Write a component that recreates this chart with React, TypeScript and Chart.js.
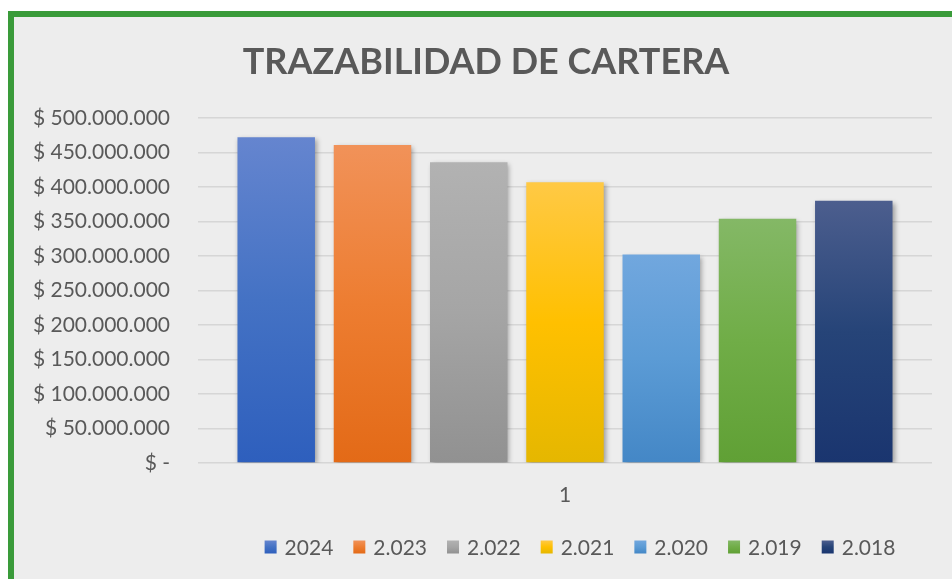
import React, { useEffect, useRef } from "react";
import { Chart, registerables } from "chart.js";

Chart.register(...registerables);

const categories = ["1"];
const seriesLabels = ["2024", "2.023", "2.022", "2.021", "2.020", "2.019", "2.018"];
const seriesValues = [472000000, 461000000, 436000000, 407000000, 302000000, 354000000, 380000000];
const gradientTop = ["#6585cf", "#f19259", "#b2b2b2", "#ffc945", "#71a7de", "#84b866", "#4c5e8e"];
const gradientMid = ["#4472c4", "#ed7d31", "#a5a5a5", "#ffc000", "#5b9bd5", "#70ad47", "#264478"];
const gradientBottom = ["#2e5fbd", "#e36a17", "#919191", "#e5b700", "#4487c6", "#60a035", "#1a356f"];
const yTicks = [0, 50000000, 100000000, 150000000, 200000000, 250000000, 300000000, 350000000, 400000000, 450000000, 500000000];
const titleText = "TRAZABILIDAD DE CARTERA";

const FONT = "Lato, 'Open Sans', sans-serif";
const TEXT_COLOR = "#595959";

function formatMoney(v: number): string {
  if (v === 0) return "$ -";
  const s = Math.round(v).toString();
  const parts: string[] = [];
  for (let i = s.length; i > 0; i -= 3) parts.unshift(s.substring(Math.max(0, i - 3), i));
  return "$ " + parts.join(".");
}

const titlePlugin = {
  id: "customTitle",
  afterDraw(chart: any) {
    const ctx = chart.ctx;
    ctx.save();
    ctx.font = `bold 36px ${FONT}`;
    ctx.fillStyle = TEXT_COLOR;
    ctx.textAlign = "center";
    ctx.textBaseline = "middle";
    ctx.fillText(titleText, 486, 62);
    ctx.restore();
  },
};

const legendPlugin = {
  id: "customLegend",
  afterDraw(chart: any) {
    const ctx = chart.ctx;
    ctx.save();
    ctx.font = `21px ${FONT}`;
    ctx.textBaseline = "middle";
    const boxW = 12, boxH = 13, gap = 8, itemGap = 20;
    const widths = seriesLabels.map((l) => ctx.measureText(l).width);
    let total = 0;
    widths.forEach((w, i) => {
      total += boxW + gap + w + (i < widths.length - 1 ? itemGap : 0);
    });
    let x = 580 - total / 2;
    const cy = 547;
    seriesLabels.forEach((l, i) => {
      const g = ctx.createLinearGradient(0, cy - boxH / 2, 0, cy + boxH / 2);
      g.addColorStop(0, gradientTop[i]);
      g.addColorStop(0.5, gradientMid[i]);
      g.addColorStop(1, gradientBottom[i]);
      ctx.fillStyle = g;
      ctx.fillRect(x, cy - boxH / 2, boxW, boxH);
      x += boxW + gap;
      ctx.fillStyle = TEXT_COLOR;
      ctx.textAlign = "left";
      ctx.fillText(l, x, cy + 1);
      x += widths[i] + itemGap;
    });
    ctx.restore();
  },
};

const shadowPlugin = {
  id: "barShadow",
  beforeDatasetsDraw(chart: any) {
    const ctx = chart.ctx;
    ctx.save();
    ctx.shadowColor = "rgba(0,0,0,0.35)";
    ctx.shadowBlur = 5;
    ctx.shadowOffsetX = 2;
    ctx.shadowOffsetY = 2;
  },
  afterDatasetsDraw(chart: any) {
    chart.ctx.restore();
  },
};

export default function App() {
  const canvasRef = useRef<HTMLCanvasElement | null>(null);

  useEffect(() => {
    if (!canvasRef.current) return;
    const datasets = seriesLabels.map((label, i) => ({
      label,
      data: [seriesValues[i]],
      backgroundColor: (context: any) => {
        const chart = context.chart;
        const area = chart.chartArea;
        const yScale = chart.scales.y;
        if (!area || !yScale) return gradientMid[i];
        const topY = yScale.getPixelForValue(seriesValues[i]);
        const botY = yScale.getPixelForValue(0);
        const g = chart.ctx.createLinearGradient(0, topY, 0, botY);
        g.addColorStop(0, gradientTop[i]);
        g.addColorStop(0.5, gradientMid[i]);
        g.addColorStop(1, gradientBottom[i]);
        return g;
      },
      borderWidth: 0,
      categoryPercentage: 0.918,
      barPercentage: 0.805,
    }));

    const chart = new Chart(canvasRef.current, {
      type: "bar",
      data: { labels: categories, datasets },
      options: {
        responsive: false,
        animation: false,
        devicePixelRatio: 1,
        layout: { padding: { left: 0, right: 20, top: 118, bottom: 76 } },
        plugins: {
          legend: { display: false },
          title: { display: false },
          tooltip: { enabled: false },
        },
        scales: {
          x: {
            grid: { display: false, drawTicks: false },
            border: { display: false },
            ticks: {
              color: TEXT_COLOR,
              font: { family: FONT, size: 21 },
              padding: 20,
            },
            afterFit(scale: any) {
              scale.height = 40;
            },
          },
          y: {
            min: 0,
            max: 500000000,
            afterBuildTicks(scale: any) {
              scale.ticks = yTicks.map((v) => ({ value: v }));
            },
            grid: { color: "#d6d6d6", lineWidth: 1.5, drawTicks: false },
            border: { display: false },
            ticks: {
              color: TEXT_COLOR,
              font: { family: FONT, size: 21 },
              padding: 28,
              callback: (v: any) => formatMoney(Number(v)),
            },
            afterFit(scale: any) {
              scale.width = 198;
            },
          },
        },
      },
      plugins: [shadowPlugin, titlePlugin, legendPlugin],
    });
    return () => chart.destroy();
  }, []);

  return (
    <div style={{ position: "fixed", left: 0, top: 0, width: 952, height: 579, overflow: "hidden", background: "#ffffff" }}>
      <div
        style={{
          position: "absolute",
          left: 8,
          top: 11,
          width: 1000,
          height: 700,
          border: "6px solid #3a9b3a",
          background: "#ededed",
        }}
      />
      <canvas ref={canvasRef} width={952} height={579} style={{ position: "absolute", left: 0, top: 0, width: 952, height: 579 }} />
    </div>
  );
}
